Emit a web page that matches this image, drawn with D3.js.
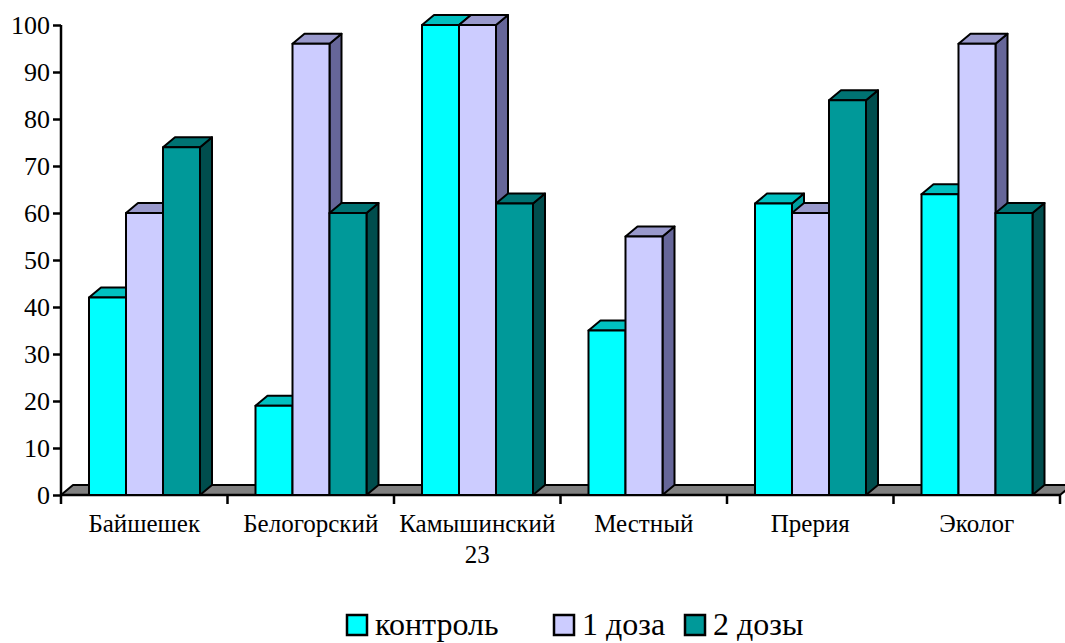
<!DOCTYPE html>
<html>
<head>
<meta charset="utf-8">
<script src="https://cdn.jsdelivr.net/npm/d3@7"></script>
<style>
  html, body { margin: 0; padding: 0; background: #fff; }
  svg { display: block; }
</style>
</head>
<body>
<svg id="chart" width="1065" height="643"></svg>
<script>
// Data
const categories = ["Байшешек", "Белогорский", "Камышинский\n23", "Местный", "Прерия", "Эколог"];
const seriesNames = ["контроль", "1 доза", "2 дозы"];
const control = [42, 19, 100, 35, 62, 64];
const dose1 = [60, 96, 100, 55, 60, 96];
const dose2 = [74, 60, 62, 0, 84, 60];
const yTicks = [0, 10, 20, 30, 40, 50, 60, 70, 80, 90, 100];

const seriesValues = [control, dose1, dose2];
const faceColors = [
  { front: "#00FFFF", top: "#00C0C0", side: "#00A0A0" },
  { front: "#CCCCFF", top: "#9999CC", side: "#666699" },
  { front: "#009999", top: "#007373", side: "#004D4D" }
];
const serif = "'Liberation Serif', 'Times New Roman', serif";

const svg = d3.select("#chart");
const plotL = 61, plotR = 1060, plotT = 25, plotB = 495;
const depthX = 12, depthY = -10;

const x = d3.scaleBand().domain(d3.range(categories.length)).range([plotL, plotR]).padding(0);
const xs = d3.scaleBand().domain(d3.range(seriesNames.length)).range([28, x.bandwidth() - 27.5]).padding(0);
const y = d3.scaleLinear().domain([0, 100]).range([plotB, plotT]);

// Floor slab
svg.append("path")
  .attr("d", `M${plotL},${plotB} L${plotR},${plotB} L${plotR + depthX},${plotB + depthY} L${plotL + depthX},${plotB + depthY} Z`)
  .attr("fill", "#808080").attr("stroke", "#000").attr("stroke-width", 2).attr("stroke-linejoin", "round");

// Y axis
const yAxis = d3.axisLeft(y).tickValues(yTicks).tickSize(8).tickPadding(3).tickFormat(d3.format("d"));
const gy = svg.append("g").attr("transform", `translate(${plotL},0)`).call(yAxis);
gy.attr("font-family", null);
gy.select(".domain").attr("stroke", "#000").attr("stroke-width", 2.5).attr("d", `M0,${plotT}V${plotB}`);
gy.selectAll(".tick line").attr("stroke", "#000").attr("stroke-width", 2.5);
gy.selectAll(".tick text").attr("font-size", 26).attr("fill", "#000").attr("dy", "0.34em")
  .style("font-family", serif);

// X axis with ticks on category boundaries
const boundaries = d3.range(categories.length + 1).map(i => plotL + i * x.bandwidth());
svg.append("line").attr("x1", plotL).attr("x2", plotR).attr("y1", plotB).attr("y2", plotB)
  .attr("stroke", "#000").attr("stroke-width", 2.5);
svg.selectAll(".xtick").data(boundaries).join("line")
  .attr("class", "xtick")
  .attr("x1", d => d).attr("x2", d => d).attr("y1", plotB).attr("y2", plotB + 9)
  .attr("stroke", "#000").attr("stroke-width", 2.5);

// 3D bars, drawn left to right so neighbours overlap correctly
const bars = [];
categories.forEach((c, ci) => {
  seriesValues.forEach((vals, si) => {
    bars.push({ ci, si, v: vals[ci] });
  });
});
const gBars = svg.append("g");
bars.filter(b => b.v > 0).forEach(b => {
  const x0 = x(b.ci) + xs(b.si);
  const x1 = x0 + xs.bandwidth();
  const y0 = y(0), y1 = y(b.v);
  const col = faceColors[b.si];
  const g = gBars.append("g");
  const st = sel => sel.attr("stroke", "#000").attr("stroke-width", 2).attr("stroke-linejoin", "round");
  // side face
  g.append("path").call(st).attr("fill", col.side)
    .attr("d", `M${x1},${y0} L${x1 + depthX},${y0 + depthY} L${x1 + depthX},${y1 + depthY} L${x1},${y1} Z`);
  // top face
  g.append("path").call(st).attr("fill", col.top)
    .attr("d", `M${x0},${y1} L${x0 + depthX},${y1 + depthY} L${x1 + depthX},${y1 + depthY} L${x1},${y1} Z`);
  // front face
  g.append("rect").call(st).attr("fill", col.front)
    .attr("x", x0).attr("y", y1).attr("width", x1 - x0).attr("height", y0 - y1);
});

// Category labels
svg.selectAll(".cat").data(categories).join("text")
  .attr("class", "cat")
  .attr("x", (d, i) => x(i) + x.bandwidth() / 2)
  .attr("y", 532)
  .attr("text-anchor", "middle")
  .attr("font-size", 25)
  .attr("fill", "#000")
  .style("font-family", serif)
  .each(function (d) {
    const lines = d.split("\n");
    d3.select(this).selectAll("tspan").data(lines).join("tspan")
      .attr("x", d3.select(this).attr("x"))
      .attr("dy", (l, k) => k === 0 ? 0 : 31)
      .text(l => l);
  });

// Legend
const legendX = [347, 554, 685];
const legend = svg.append("g");
seriesNames.forEach((name, si) => {
  legend.append("rect")
    .attr("x", legendX[si]).attr("y", 615).attr("width", 20).attr("height", 20)
    .attr("fill", faceColors[si].front).attr("stroke", "#000").attr("stroke-width", 2.5);
  legend.append("text")
    .attr("x", legendX[si] + 28).attr("y", 635)
    .attr("font-size", 32).attr("fill", "#000")
    .style("font-family", serif)
    .text(name);
});
</script>
</body>
</html>
